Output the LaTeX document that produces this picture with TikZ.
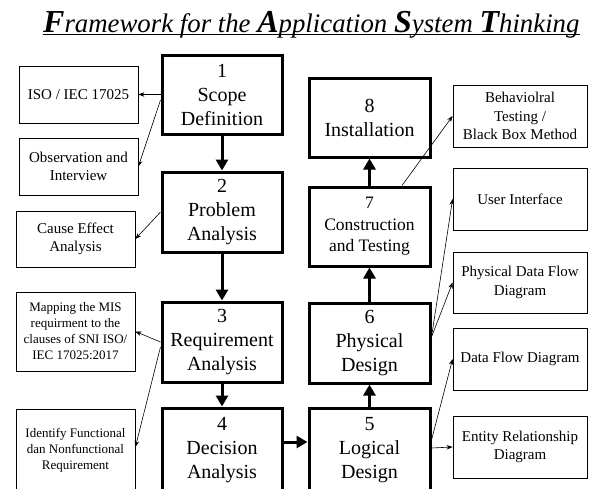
\documentclass[tikz,border=0pt]{standalone}
\usepackage{fontspec}
\setmainfont{Liberation Serif}
\usetikzlibrary{arrows.meta}
\newcommand{\ttlcap}[1]{{\fontsize{32}{32}\selectfont\bfseries\itshape #1}}
\newcommand{\ttlrest}[1]{{\fontsize{26.8}{26.8}\selectfont\itshape #1}}
\begin{document}
\begin{tikzpicture}[x=1pt,y=-1pt,
  mainbox/.style={draw,line width=3pt,inner sep=0pt,align=center,font=\fontsize{20}{24}\selectfont},
  sidebox/.style={draw,line width=0.8pt,inner sep=0pt,align=center,font=\fontsize{15}{18.5}\selectfont},
  smallbox/.style={sidebox,font=\fontsize{13}{16}\selectfont},
  thick arrow/.style={line width=3pt,-{Triangle[width=12pt,length=11pt]}},
  thin arrow/.style={line width=0.6pt,-{Stealth[width=4.5pt,length=6pt]}}]
\useasboundingbox (0,0) rectangle (592,488);
\clip (0,0) rectangle (592,488);
% title
\node[anchor=base west,inner sep=0pt] (title) at (43,32)
  {\ttlcap{F}\ttlrest{ramework for the }\ttlcap{A}\ttlrest{pplication }\ttlcap{S}\ttlrest{ystem }\ttlcap{T}\ttlrest{hinking}};
\draw[line width=1.5pt] ([yshift=-2.5pt]title.base west) -- ([yshift=-2.5pt]title.base east);
% main boxes
\node[mainbox,minimum width=120pt,minimum height=79pt] (b1) at (222,94.5) {1\\Scope\\Definition};
\node[mainbox,minimum width=120pt,minimum height=80pt] (b2) at (222,212) {2\\Problem\\Analysis};
\node[mainbox,minimum width=120pt,minimum height=80pt] (b3) at (222,342) {3\\Requirement\\Analysis};
\node[mainbox,minimum width=120pt,minimum height=84pt] (b4) at (222,450) {4\\Decision\\Analysis};
\node[mainbox,minimum width=121pt,minimum height=84pt] (b5) at (369.5,450) {5\\Logical\\Design};
\node[mainbox,minimum width=121pt,minimum height=80pt] (b6) at (369.5,343) {6\\Physical\\Design};
\node[mainbox,minimum width=121pt,minimum height=79pt,font=\fontsize{17.5}{21.5}\selectfont] (b7) at (369.5,226.5) {7\\Construction\\and Testing};
\node[mainbox,minimum width=121pt,minimum height=79pt] (b8) at (369.5,117.5) {8\\Installation};
% left side boxes
\node[sidebox,minimum width=119pt,minimum height=57pt] (iso) at (78.5,94.5) {ISO / IEC 17025};
\node[sidebox,minimum width=119pt,minimum height=57pt] (obs) at (78.5,166.5) {Observation and\\Interview};
\node[sidebox,minimum width=119pt,minimum height=56pt] (cause) at (75.5,239) {Cause Effect\\Analysis};
\node[smallbox,minimum width=119pt,minimum height=79pt] (map) at (75.5,331.5) {Mapping the MIS\\requirment to the\\clauses of SNI ISO/\\IEC 17025:2017};
\node[smallbox,minimum width=119pt,minimum height=82pt] (ident) at (75.5,450) {Identify Functional\\dan Nonfunctional\\Requirement};
% right side boxes
\node[sidebox,minimum width=134pt,minimum height=62pt] (beh) at (520,116) {Behaviolral\\Testing /\\ Black Box Method};
\node[sidebox,minimum width=134pt,minimum height=62pt] (ui) at (520,199) {User Interface};
\node[sidebox,minimum width=134pt,minimum height=61pt] (pdfd) at (520,282.5) {Physical Data Flow\\Diagram};
\node[sidebox,minimum width=134pt,minimum height=62pt] (dfd) at (520,359) {Data Flow Diagram};
\node[sidebox,minimum width=134pt,minimum height=62pt] (erd) at (520,447) {Entity Relationship\\Diagram};
% thick flow arrows
\draw[thick arrow] (b1.south) -- (b2.north);
\draw[thick arrow] (b2.south) -- (b3.north);
\draw[thick arrow] (b3.south) -- (b4.north);
\draw[thick arrow] ([yshift=8pt]b4.east) -- ([yshift=8pt]b5.west);
\draw[thick arrow] (b5.north) -- (b6.south);
\draw[thick arrow] (b6.north) -- (b7.south);
\draw[thick arrow] (b7.north) -- (b8.south);
% thin arrows
\draw[thin arrow] (b1.west) -- (iso.east);
\draw[thin arrow] ([yshift=-5.5pt]b1.west) -- (obs.east);
\draw[thin arrow] (b2.west) -- (cause.east);
\draw[thin arrow] (b3.west) -- (map.east);
\draw[thin arrow] ([yshift=-5pt]b3.west) -- ([yshift=3pt]ident.east);
\draw[thin arrow] ([xshift=32.5pt]b7.north) -- (beh.west);
\draw[thin arrow] ([yshift=6pt]b6.east) -- (ui.west);
\draw[thin arrow] ([yshift=6pt]b6.east) -- (pdfd.west);
\draw[thin arrow] ([yshift=10pt]b5.east) -- (dfd.west);
\draw[thin arrow] ([yshift=2pt]b5.east) -- (erd.west);
\end{tikzpicture}
\end{document}
